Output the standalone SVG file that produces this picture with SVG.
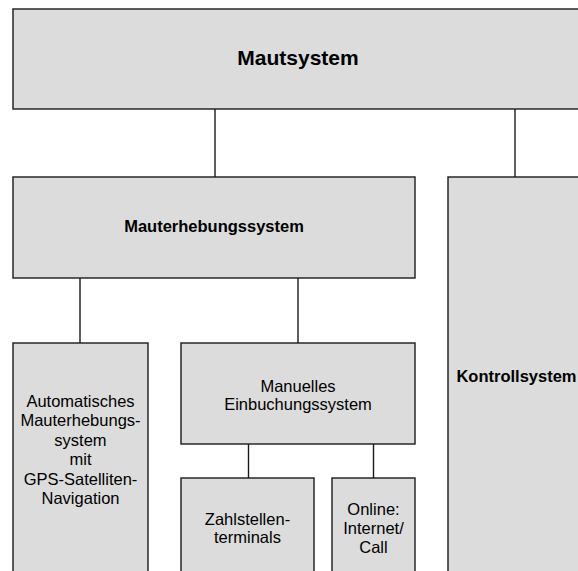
<svg xmlns="http://www.w3.org/2000/svg" width="578" height="571" viewBox="0 0 578 571">
<style>
.box{fill:#dcdcdc;stroke:#1a1a1a;stroke-width:1.4}
.ln{stroke:#1a1a1a;stroke-width:1.4;fill:none}
text{font-family:"Liberation Sans",Arial,sans-serif;fill:#000;text-anchor:middle}
.b{font-weight:bold}
.r{font-size:16.5px}
</style>
<rect width="578" height="571" fill="#fff"/>
<g id="connectors">
<line class="ln" x1="215" y1="109" x2="215" y2="177"/>
<line class="ln" x1="515" y1="109" x2="515" y2="177"/>
<line class="ln" x1="80" y1="278" x2="80" y2="343"/>
<line class="ln" x1="298" y1="278" x2="298" y2="343"/>
<line class="ln" x1="248.5" y1="444" x2="248.5" y2="478"/>
<line class="ln" x1="373.5" y1="444" x2="373.5" y2="478"/>
</g>
<g id="mautsystem">
<rect class="box" x="13" y="9" width="572" height="100"/>
<text class="b" x="298" y="65" font-size="21">Mautsystem</text>
</g>
<g id="mauterhebungssystem">
<rect class="box" x="13" y="177" width="402" height="101"/>
<text class="b" x="214" y="232" font-size="16.5">Mauterhebungssystem</text>
</g>
<g id="kontrollsystem">
<rect class="box" x="448" y="177" width="137" height="410"/>
<text class="b" x="516.5" y="381.7" font-size="16.5">Kontrollsystem</text>
</g>
<g id="automatisch">
<rect class="box" x="13" y="343" width="135" height="240"/>
<text class="r" x="80.5" y="407">Automatisches</text>
<text class="r" x="80.5" y="426.4">Mauterhebungs-</text>
<text class="r" x="80.5" y="445.8">system</text>
<text class="r" x="80.5" y="465.2">mit</text>
<text class="r" x="80.5" y="484.6">GPS-Satelliten-</text>
<text class="r" x="80.5" y="504">Navigation</text>
</g>
<g id="manuell">
<rect class="box" x="181" y="343" width="234" height="101"/>
<text class="r" x="298" y="392">Manuelles</text>
<text class="r" x="298" y="410">Einbuchungssystem</text>
</g>
<g id="zahlstellen">
<rect class="box" x="181" y="478" width="133" height="110"/>
<text class="r" x="247.5" y="525">Zahlstellen-</text>
<text class="r" x="247.5" y="543">terminals</text>
</g>
<g id="online">
<rect class="box" x="332" y="478" width="83" height="110"/>
<text class="r" x="373.5" y="515">Online:</text>
<text class="r" x="373.5" y="534">Internet/</text>
<text class="r" x="373.5" y="553">Call</text>
</g>
</svg>
